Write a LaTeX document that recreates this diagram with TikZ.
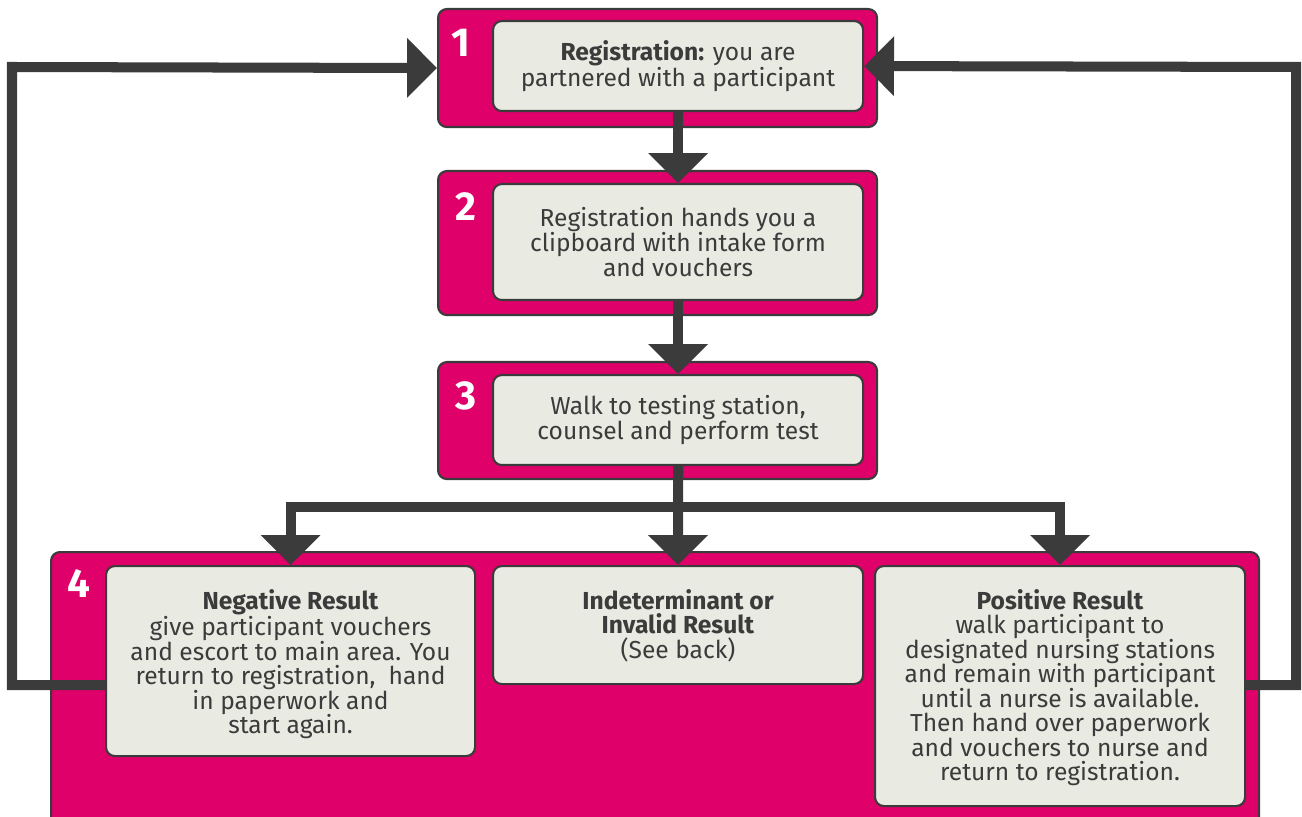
\documentclass[tikz,border=0pt]{standalone}
\usepackage{fontspec}
\setmainfont{Fira Sans}
\usetikzlibrary{arrows.meta,calc}
\definecolor{mag}{HTML}{E0006A}
\definecolor{pale}{HTML}{E9EBE3}
\definecolor{ink}{HTML}{3B3B3B}
\begin{document}
\begin{tikzpicture}[x=0.02cm,y=-0.02cm,
  outerbox/.style={draw=ink, line width=1.2pt, fill=mag, rounded corners=5pt, anchor=north west, inner sep=0pt},
  innerbox/.style={draw=ink, line width=1.2pt, fill=pale, rounded corners=5pt, anchor=north west, inner sep=0pt, text=ink, align=center, font=\fontsize{14}{13.95}\selectfont},
  num/.style={text=white, font=\fontsize{23}{23}\selectfont\bfseries, inner sep=0pt},
  line/.style={draw=ink, line width=5.7pt},
  conn/.style={line, -{Triangle[width=33pt,length=17pt]}},
  txt/.style={text=ink, align=center, font=\fontsize{14}{13.95}\selectfont, inner sep=0pt, anchor=north}]
\clip (0,0) rectangle (1302,817);
% outer boxes
\node[outerbox, minimum width={439*0.02cm}, minimum height={118*0.02cm}] (o1) at (437,8) {};
\node[outerbox, minimum width={439*0.02cm}, minimum height={144*0.02cm}] (o2) at (437,170) {};
\node[outerbox, minimum width={439*0.02cm}, minimum height={117*0.02cm}] (o3) at (437,361) {};
\node[outerbox, minimum width={1208*0.02cm}, minimum height={280*0.02cm}] (o4) at (50,551) {};
% numbers
\node[num] (n1) at (461,43) {1};
\node[num] (n2) at (466,207) {2};
\node[num] (n3) at (466,396) {3};
\node[num] (n4) at (79,583) {4};
% inner boxes
\node[innerbox, minimum width={370*0.02cm}, minimum height={90*0.02cm}] (b1) at (492,20)
  {\textbf{Registration:} you are\\partnered with a participant};
\node[innerbox, minimum width={370*0.02cm}, minimum height={116*0.02cm}] (b2) at (492,183)
  {Registration hands you a\\clipboard with intake form\\and vouchers};
\node[innerbox, minimum width={370*0.02cm}, minimum height={90*0.02cm}] (b3) at (492,374)
  {Walk to testing station,\\counsel and perform test};
\node[innerbox, minimum width={369*0.02cm}, minimum height={190*0.02cm}] (neg) at (105,565) {};
\node[innerbox, minimum width={370*0.02cm}, minimum height={118*0.02cm}] (mid) at (492,565) {};
\node[innerbox, minimum width={370*0.02cm}, minimum height={240*0.02cm}] (pos) at (874,565) {};
\node[txt] (tneg) at ($(neg.north)+(0,24)$)
  {\textbf{Negative Result}\\give participant vouchers\\and escort to main area. You\\return to registration,\ \ hand\\in paperwork and\\start again.};
\node[txt] (tmid) at ($(mid.north)+(0,24)$)
  {\textbf{Indeterminant or}\\\textbf{Invalid Result}\\(See back)};
\node[txt] (tpos) at ($(pos.north)+(0,24)$)
  {\textbf{Positive Result}\\walk participant to\\designated nursing stations\\and remain with participant\\until a nurse is available.\\Then hand over paperwork\\and vouchers to nurse and\\return to registration.};
% connectors
\draw[conn] (b1.south) -- (b2.north);
\draw[conn] (b2.south) -- (b3.north);
\coordinate (split) at (678,507);
\draw[line] (b3.south) -- (split);
\draw[conn] (split) -| (neg.north);
\draw[conn] (split) -- (mid.north);
\draw[conn] (split) -| (pos.north);
\coordinate (negout) at ($(neg.west)+(0,24)$);
\coordinate (posout) at ($(pos.east)+(0,-1)$);
\coordinate (lc) at (12,67);
\coordinate (rc) at (1296,67);
\draw[conn] (negout) -| (lc) -- (o1.west);
\draw[conn] (posout) -| (rc) -- (b1.east);
\end{tikzpicture}
\end{document}
